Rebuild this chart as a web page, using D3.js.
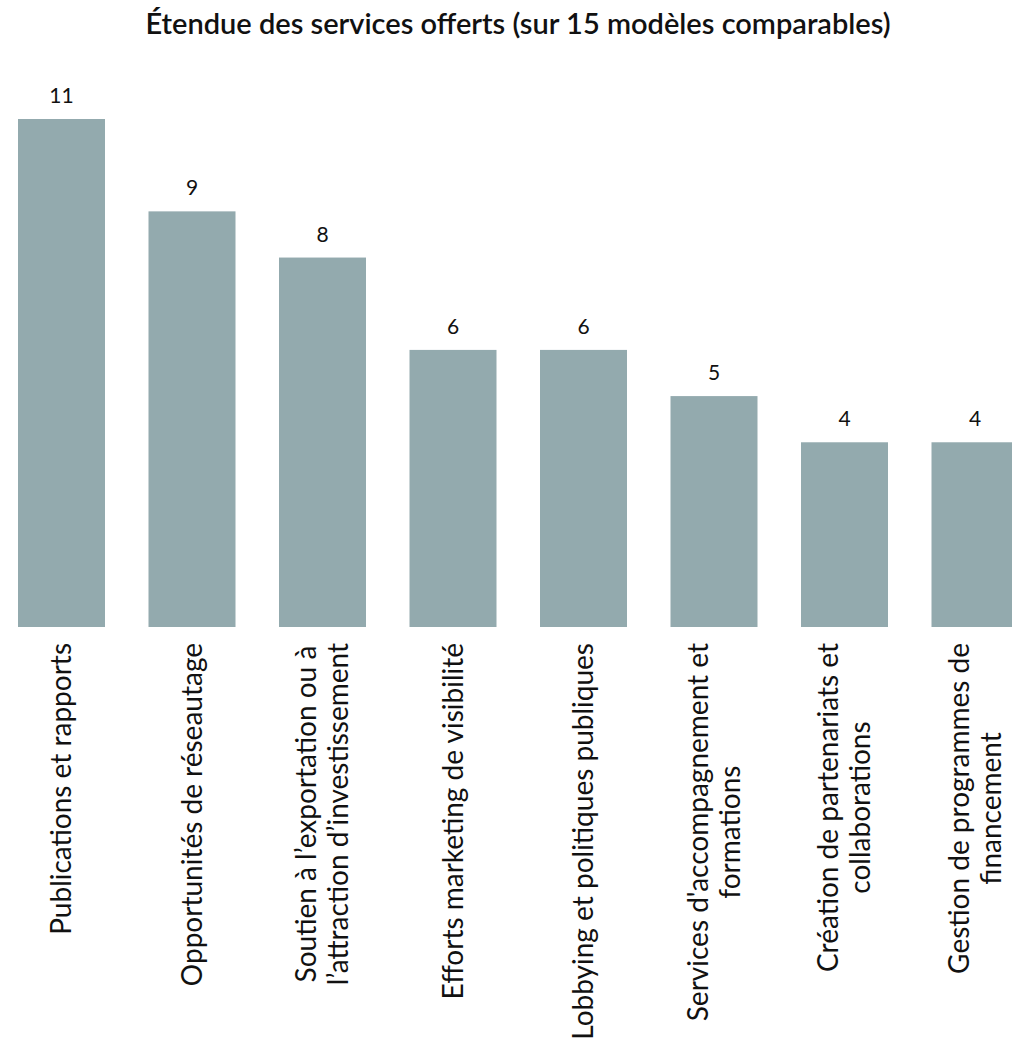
<!DOCTYPE html>
<html>
<head>
<meta charset="utf-8">
<script src="https://cdn.jsdelivr.net/npm/d3@7"></script>
<style>
  html, body { margin: 0; padding: 0; background: #fff; }
  svg { display: block; }
  text { font-family: "Lato", "Noto Sans", sans-serif; }
</style>
</head>
<body>
<svg id="chart" width="1012" height="1049"></svg>
<script>
const title = "Étendue des services offerts (sur 15 modèles comparables)";
const categories = [
  "Publications et rapports",
  "Opportunités de réseautage",
  "Soutien à l’exportation ou à l’attraction d’investissement",
  "Efforts marketing de visibilité",
  "Lobbying et politiques publiques",
  "Services d'accompagnement et formations",
  "Création de partenariats et collaborations",
  "Gestion de programmes de financement"
];
const labelLines = [
  ["Publications et rapports"],
  ["Opportunités de réseautage"],
  ["Soutien à l’exportation ou à", "l’attraction d’investissement"],
  ["Efforts marketing de visibilité"],
  ["Lobbying et politiques publiques"],
  ["Services d'accompagnement et", "formations"],
  ["Création de partenariats et", "collaborations"],
  ["Gestion de programmes de", "financement"]
];
const values = [11, 9, 8, 6, 6, 5, 4, 4];

const svg = d3.select("#chart");
const baseY = 627, topY = 119;

const x = d3.scaleBand()
  .domain(categories)
  .range([-3.75, 1040.25])
  .paddingInner(1/3)
  .paddingOuter(1/6);

const y = d3.scaleLinear()
  .domain([0, d3.max(values)])
  .range([baseY, topY]);

svg.append("text")
  .attr("x", 518)
  .attr("y", 34)
  .attr("text-anchor", "middle")
  .attr("font-size", 29)
  .attr("font-weight", 600)
  .attr("fill", "#111")
  .text(title);

svg.append("g")
  .selectAll("rect")
  .data(values)
  .join("rect")
  .attr("x", (d, i) => x(categories[i]))
  .attr("width", x.bandwidth())
  .attr("y", d => y(d))
  .attr("height", d => baseY - y(d))
  .attr("fill", "#93aaae");

svg.append("g")
  .selectAll("text")
  .data(values)
  .join("text")
  .attr("x", (d, i) => x(categories[i]) + x.bandwidth() / 2)
  .attr("y", d => y(d) - 16)
  .attr("text-anchor", "middle")
  .attr("font-size", 21)
  .attr("fill", "#111")
  .text(d => d);

// category labels (rotated)
const lh = 32;
const labelTop = 643;
categories.forEach((c, i) => {
  const cx = x(c) + x.bandwidth() / 2;
  const lines = labelLines[i];
  const g = svg.append("g");
  const texts = lines.map(ln => g.append("text")
    .attr("font-size", 28)
    .attr("fill", "#111")
    .attr("text-anchor", "middle")
    .attr("dy", "0.35em")
    .text(ln));
  const maxW = d3.max(texts, t => t.node().getComputedTextLength());
  const cy = labelTop + maxW / 2;
  texts.forEach((t, j) => {
    const off = (j - (lines.length - 1) / 2) * lh;
    t.attr("transform", `translate(${cx + off},${cy}) rotate(-90)`);
  });
});
</script>
</body>
</html>
